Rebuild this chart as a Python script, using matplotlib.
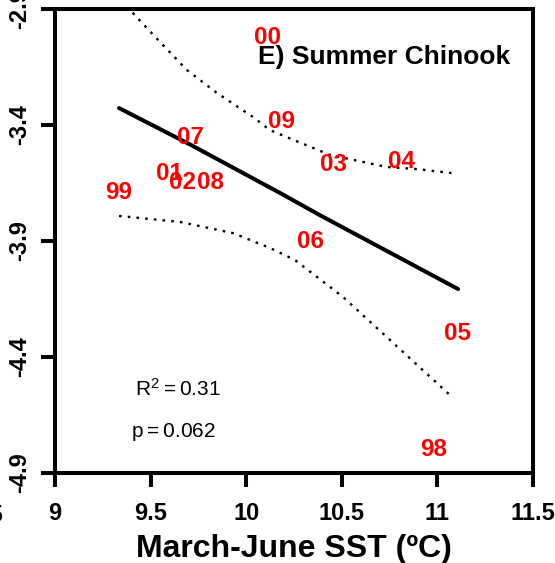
import numpy as np
import matplotlib
matplotlib.use("Agg")
import matplotlib.pyplot as plt

plt.rcParams['font.family'] = ['Liberation Sans', 'DejaVu Sans']

# survival index vs. March-June SST, one label per year
years = ['99', '01', '02', '07', '08', '00', '09', '06', '03', '04', '98', '05']
sst = [9.335, 9.60, 9.669, 9.711, 9.811, 10.114, 10.187, 10.334, 10.454, 10.81, 10.98, 11.103]
survival = [-3.693, -3.611, -3.650, -3.452, -3.650, -3.021, -3.383, -3.904, -3.572, -3.559, -4.80, -4.297]

# fitted line and confidence band
fit_x = [9.335, 9.711, 10.177, 10.375, 11.108]
fit_y = [-3.327, -3.486, -3.693, -3.784, -4.107]
upper_x = [9.335, 9.392, 9.549, 9.690, 9.847, 10.036, 10.124, 10.438, 10.736, 10.893, 11.076]
upper_y = [-2.84, -2.904, -3.042, -3.163, -3.262, -3.366, -3.422, -3.529, -3.581, -3.590, -3.607]
lower_x = [9.335, 9.654, 9.931, 10.124, 10.255, 10.506, 10.820, 11.076]
lower_y = [-3.792, -3.818, -3.866, -3.930, -3.982, -4.141, -4.378, -4.572]

xticks = [9, 9.5, 10, 10.5, 11, 11.5]
yticks = [-2.9, -3.4, -3.9, -4.4, -4.9]

fig = plt.figure(figsize=(5.55, 5.63), dpi=100)
ax = fig.add_axes([55 / 555, 1 - 473 / 563, 478 / 555, 464 / 563])

ax.plot(fit_x, fit_y, color='black', lw=2.9, solid_capstyle='round')
ax.plot(upper_x, upper_y, color='black', lw=1.7, linestyle=(0, (1.1, 2.6)))
ax.plot(lower_x, lower_y, color='black', lw=1.7, linestyle=(0, (1.1, 2.6)))

for yr, x, y in zip(years, sst, survival):
    ax.text(x, y, yr, color='red', fontsize=17.5, fontweight='bold',
            ha='center', va='center')

ax.text(0.952, 0.896, 'E) Summer Chinook', transform=ax.transAxes,
        ha='right', va='center', fontsize=19, fontweight='bold')
ax.text(9.418, -4.538, r'$\mathregular{R^2 = 0.31}$', fontsize=15,
        ha='left', va='center')
ax.text(9.40, -4.723, r'$\mathregular{p = 0.062}$', fontsize=15,
        ha='left', va='center')

ax.set_xlim(9, 11.5)
ax.set_ylim(-4.9, -2.9)
ax.set_xticks(xticks)
ax.set_xticklabels(['9', '9.5', '10', '10.5', '11', '11.5'])
ax.set_yticks(yticks)
ax.set_yticklabels(['-2.9', '-3.4', '-3.9', '-4.4', '-4.9'], rotation=90, va='center')

for s in ax.spines.values():
    s.set_linewidth(2.9)
ax.tick_params(axis='both', direction='out', length=10, width=2.9, labelsize=17)
ax.tick_params(axis='x', pad=11)
ax.tick_params(axis='y', pad=7)
for lab in ax.get_xticklabels() + ax.get_yticklabels():
    lab.set_fontweight('bold')

ax.set_xlabel('March-June SST (ºC)', fontsize=23, fontweight='bold', labelpad=6)

# edge of the neighbouring panel's axis label
fig.text(3 / 555, 1 - 516 / 563, '11.5', ha='right', va='center',
         fontsize=17, fontweight='bold')

fig.savefig('out.png', dpi=100)
